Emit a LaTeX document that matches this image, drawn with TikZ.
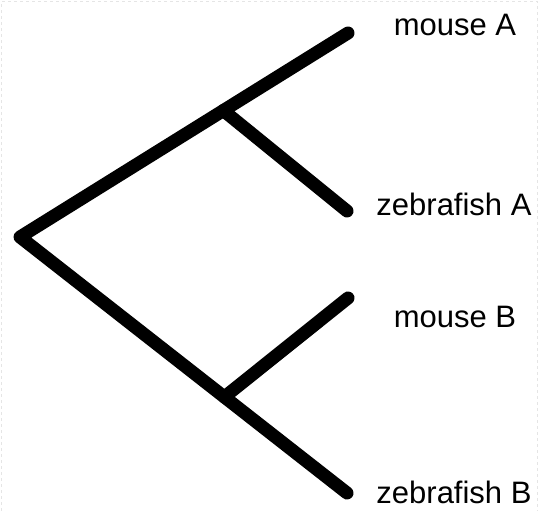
\documentclass[tikz,border=0pt]{standalone}
\usepackage{fontspec}
\setmainfont{Liberation Sans}
\usetikzlibrary{calc}
\tikzset{
  branch/.style={line width=13pt,line cap=round,line join=round},
  leaflabel/.style={anchor=base,font=\fontsize{31}{33}\selectfont,inner sep=0pt},
}
\begin{document}
\begin{tikzpicture}[x=1pt,y=-1pt]
  \useasboundingbox (0,0) rectangle (539,511);
  \draw[gray!20,dashed,line width=1pt] (1.5,511) -- (1.5,1.5) -- (537.5,1.5) -- (537.5,511);
  % tree
  \coordinate (root) at (20,237);
  \coordinate (mA) at (348,33);
  \coordinate (zA) at (347,211);
  \coordinate (mB) at (348,298);
  \coordinate (zB) at (347,493);
  \coordinate (up) at ($(root)!0.62!(mA)$);
  \coordinate (lo) at ($(root)!0.625!(zB)$);
  \draw[branch] (mA) -- (root) -- (zB);
  \draw[branch] (up) -- (zA);
  \draw[branch] (lo) -- (mB);
  % labels
  \node[leaflabel] (labmA) at (455,36) {mouse A};
  \node[leaflabel] (labzA) at (454,215) {zebrafish A};
  \node[leaflabel] (labmB) at (455,327) {mouse B};
  \node[leaflabel] (labzB) at (454,503) {zebrafish B};
\end{tikzpicture}
\end{document}
